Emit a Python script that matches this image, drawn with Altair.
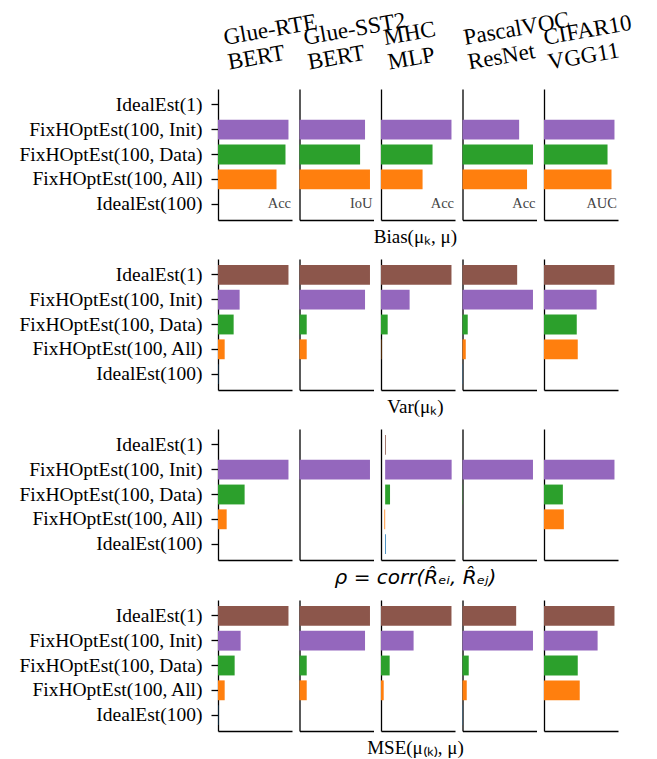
import altair as alt
import pandas as pd

methods = ["IdealEst(1)", "FixHOptEst(100, Init)", "FixHOptEst(100, Data)",
           "FixHOptEst(100, All)", "IdealEst(100)"]
colors = ["#8c564b", "#9467bd", "#2ca02c", "#ff7f0e", "#1f77b4"]
dataset_keys = ["rte", "sst2", "mhc", "voc", "cifar"]
dataset_labels = ["Glue-RTE\nBERT", "Glue-SST2\nBERT", "MHC\nMLP",
                  "PascalVOC\nResNet", "CIFAR10\nVGG11"]
metrics = ["Acc", "IoU", "Acc", "Acc", "AUC"]
row_titles = ["Bias(μₖ, μ)", "Var(μₖ)", "ρ = corr(R̂ₑᵢ, R̂ₑⱼ)", "MSE(μ₍ₖ₎, μ)"]

# values per dataset (column), in method order (relative units)
bias = [
    [0, 70.7, 67.7, 58.7, 0],
    [0, 66.3, 61.3, 71.3, 0],
    [0, 70.7, 51.7, 41.7, 0],
    [0, 57.3, 71.3, 65.3, 0],
    [0, 71.0, 64.0, 68.0, 0],
]
var = [
    [70.7, 21.7, 15.7, 6.7, 0.3],
    [71.3, 66.3, 7.3, 7.3, 0],
    [70.7, 28.7, 6.7, 0.3, 0],
    [55.3, 71.3, 5.3, 3.3, 0.3],
    [71.0, 53.0, 33.0, 34.0, 0],
]
rho = [
    [0, 70.7, 26.7, 8.7, 0],
    [0, 71.3, 0, 0, 0],
    [0.8, 68.0, 5.0, -0.8, 0.8],
    [0, 71.3, 0.3, 0, 0],
    [0, 71.0, 19.0, 20.0, 0],
]
mse = [
    [70.7, 22.7, 16.7, 6.7, 0.3],
    [71.3, 66.3, 7.3, 7.3, 0],
    [70.7, 32.7, 8.7, 2.7, 0],
    [54.3, 71.3, 6.3, 4.3, 0.3],
    [71.0, 54.0, 34.0, 36.0, 0],
]
rows_data = [bias, var, rho, mse]

PW, PH = 74, 131
GAP = 7.5
SERIF = "Liberation Serif"

yscale = alt.Scale(domain=methods, paddingInner=0.2, paddingOuter=0.24)
cscale = alt.Scale(domain=methods, range=colors)


def panel(r, c):
    vals = rows_data[r][c]
    df = pd.DataFrame({"method": methods, "value": vals})
    lo = min(0, min(vals))
    hi = max(0, max(vals))
    rng = hi - lo
    dlo = lo - 0.05 * rng if lo < 0 else 0
    dhi = hi + 0.05 * rng
    if c == 0:
        yaxis = alt.Axis(title=None, labels=True, ticks=True, domain=True)
    else:
        yaxis = alt.Axis(title=None, labels=False, ticks=False, domain=True)
    bars = alt.Chart(df).mark_bar().encode(
        x=alt.X("value:Q", scale=alt.Scale(domain=[dlo, dhi], nice=False, zero=False),
                axis=alt.Axis(title=None, labels=False, ticks=False, domain=True, grid=False)),
        x2=alt.datum(0),
        y=alt.Y("method:N", sort=methods, scale=yscale, axis=yaxis),
        color=alt.Color("method:N", scale=cscale, legend=None),
    )
    layers = [bars]
    if r == 0:
        tdf = pd.DataFrame({"method": ["IdealEst(100)"], "metric": [metrics[c]]})
        txt = alt.Chart(tdf).mark_text(
            align="right", baseline="middle", font=SERIF, fontSize=14.5, color="#444444"
        ).encode(
            x=alt.value(PW - 1),
            y=alt.Y("method:N", sort=methods, scale=yscale, axis=yaxis),
            text="metric:N",
        )
        layers.append(txt)
    return alt.layer(*layers).properties(width=PW, height=PH)


hdf = pd.DataFrame({"key": dataset_keys, "label": dataset_labels})
total_w = 5 * PW + 4 * GAP
header = alt.Chart(hdf).mark_text(
    align="left", baseline="alphabetic", angle=350, font=SERIF, fontSize=23,
    lineHeight=25, lineBreak="\n", xOffset=4 - PW / 2, color="black",
).encode(
    x=alt.X("key:N", sort=dataset_keys,
            scale=alt.Scale(domain=dataset_keys, paddingInner=GAP / (PW + GAP), paddingOuter=0),
            axis=None),
    y=alt.value(34),
    text="label:N",
).properties(width=total_w, height=70)

rows = []
for r in range(4):
    if r == 2:
        tp = alt.TitleParams(text=row_titles[r], orient="bottom", anchor="middle",
                             font="DejaVu Sans", fontStyle="italic", fontSize=20,
                             fontWeight="normal", offset=8, dx=97, color="black")
    else:
        tp = alt.TitleParams(text=row_titles[r], orient="bottom", anchor="middle",
                             font=SERIF, fontSize=19, fontWeight="normal",
                             offset=8, dx=97, color="black")
    rows.append(alt.hconcat(*[panel(r, c) for c in range(5)], spacing=GAP).properties(title=tp))

body = alt.vconcat(*rows, spacing=12)

chart = alt.VConcatChart(vconcat=[header, body], spacing=8, bounds="flush").properties(
    padding={"left": 10, "top": 0, "right": 0, "bottom": 0}
).configure_view(strokeWidth=0).configure_axis(
    labelFont=SERIF, labelFontSize=19.5, labelColor="black", labelLimit=400,
    domainColor="black", tickColor="black", domainWidth=1.3, tickWidth=1.3,
    tickSize=7, labelPadding=9, grid=False,
)

chart.save("out.html", embed_options={"renderer": "svg", "actions": False})
